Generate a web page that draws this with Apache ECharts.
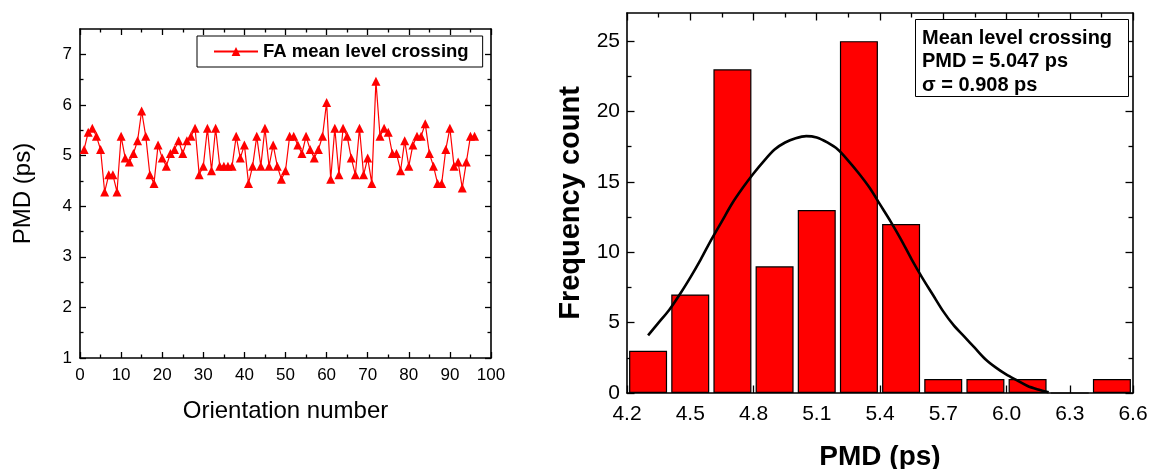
<!DOCTYPE html>
<html>
<head>
<meta charset="utf-8">
<script src="https://cdn.jsdelivr.net/npm/echarts@6/dist/echarts.min.js"></script>
<style>
  html, body { margin: 0; padding: 0; background: #fff; }
  #chart { width: 1149px; height: 469px; }
</style>
</head>
<body>
<div id="chart"></div>
<script>
// PMD measured at each fibre orientation (ps), orientations 1..96
const pmdValues = [
  5.12, 5.46, 5.54, 5.38, 5.12, 4.28, 4.62, 4.62, 4.28, 5.38,
  4.95, 4.87, 5.04, 5.29, 5.88, 5.38, 4.62, 4.45, 5.21, 4.95,
  4.79, 5.04, 5.12, 5.29, 5.04, 5.29, 5.38, 5.54, 4.62, 4.79,
  5.54, 4.70, 5.54, 4.79, 4.79, 4.79, 4.79, 5.38, 4.95, 5.21,
  4.45, 4.79, 5.38, 4.79, 5.54, 4.79, 5.21, 4.79, 4.53, 4.70,
  5.38, 5.38, 5.21, 5.04, 5.38, 5.12, 4.95, 5.12, 5.38, 6.05,
  4.53, 5.54, 4.62, 5.54, 5.38, 4.95, 4.62, 5.54, 4.62, 4.95,
  4.45, 6.47, 5.38, 5.54, 5.46, 5.04, 5.04, 4.70, 5.29, 4.79,
  5.21, 5.38, 5.38, 5.63, 5.04, 4.79, 4.45, 4.45, 5.12, 5.54,
  4.79, 4.87, 4.36, 4.87, 5.38, 5.38
];

// Histogram of the PMD values: bin centres (ps) and counts
const binCenters = [4.3, 4.5, 4.7, 4.9, 5.1, 5.3, 5.5, 5.7, 5.9, 6.1, 6.3, 6.5];
const binCounts  = [3, 7, 23, 9, 13, 25, 12, 1, 1, 1, 0, 1];

// Fitted distribution curve drawn over the histogram
const fitX = [4.30, 4.35, 4.40, 4.45, 4.50, 4.55, 4.60, 4.65, 4.70, 4.75,
              4.80, 4.85, 4.90, 4.95, 5.00, 5.05, 5.10, 5.15, 5.20, 5.25,
              5.30, 5.35, 5.40, 5.45, 5.50, 5.55, 5.60, 5.65, 5.70, 5.75,
              5.80, 5.85, 5.90, 5.95, 6.00, 6.05, 6.10, 6.15, 6.20];
const fitY = [4.1, 5.0, 5.9, 7.0, 8.2, 9.5, 10.9, 12.2, 13.5, 14.6,
              15.6, 16.5, 17.3, 17.8, 18.1, 18.25, 18.15, 17.8, 17.3, 16.5,
              15.6, 14.6, 13.4, 12.2, 10.9, 9.5, 8.2, 7.0, 5.8, 4.8,
              4.0, 3.2, 2.4, 1.8, 1.3, 0.9, 0.5, 0.25, 0.05];

// Summary statistics
const meanPMD = '5.047';
const sigmaPMD = '0.908';

// Tick values
const leftXMajor = [0, 10, 20, 30, 40, 50, 60, 70, 80, 90, 100];
const leftXMinor = [5, 15, 25, 35, 45, 55, 65, 75, 85, 95];
const leftYMajor = [1, 2, 3, 4, 5, 6, 7];
const leftYMinor = [1.5, 2.5, 3.5, 4.5, 5.5, 6.5];
const rightXMajor = [4.2, 4.5, 4.8, 5.1, 5.4, 5.7, 6.0, 6.3, 6.6];
const rightXMinor = [4.35, 4.65, 4.95, 5.25, 5.55, 5.85, 6.15, 6.45];
const rightYMajor = [0, 5, 10, 15, 20, 25];
const rightYMinor = [2.5, 7.5, 12.5, 17.5, 22.5];

const FONT = '"Liberation Sans", Arial, Helvetica, sans-serif';

// Builds a framed axis pair (major ticks with line, minor ticks only) for one side
function sideAxes(grid, pos, min, max, major, minor, cfg) {
  const base = {
    gridIndex: grid, type: 'value', min: min, max: max, position: pos,
    splitLine: { show: false }, axisPointer: { show: false }, silent: true
  };
  const main = Object.assign({}, base, {
    axisLine: { show: true, onZero: false, lineStyle: { color: '#000', width: 1.6 } },
    axisTick: { show: true, inside: true, length: cfg.majorLen, customValues: major,
                lineStyle: { color: '#000', width: 1.3 } },
    axisLabel: cfg.labels ? {
      show: true, customValues: major, margin: cfg.margin, color: '#000',
      fontSize: cfg.fontSize, fontFamily: FONT, formatter: cfg.fmt
    } : { show: false }
  });
  if (cfg.name) {
    main.name = cfg.name;
    main.nameLocation = 'middle';
    main.nameGap = cfg.nameGap;
    main.nameTextStyle = cfg.nameStyle;
  }
  const mnr = Object.assign({}, base, {
    axisLine: { show: false, onZero: false },
    axisTick: { show: true, inside: true, length: cfg.minorLen, customValues: minor,
                lineStyle: { color: '#000', width: 1.3 } },
    axisLabel: { show: false }
  });
  return [main, mnr];
}

const xAxes = [].concat(
  sideAxes(0, 'bottom', 0, 100, leftXMajor, leftXMinor, {
    labels: true, majorLen: 6, minorLen: 3.5, margin: 9, fontSize: 17,
    fmt: v => String(v),
    name: 'Orientation number', nameGap: 41,
    nameStyle: { fontSize: 24, fontFamily: FONT, color: '#000' }
  }),
  sideAxes(0, 'top', 0, 100, leftXMajor, leftXMinor, { labels: false, majorLen: 6, minorLen: 3.5 }),
  sideAxes(1, 'bottom', 4.2, 6.6, rightXMajor, rightXMinor, {
    labels: true, majorLen: 7.5, minorLen: 4.5, margin: 11, fontSize: 21,
    fmt: v => Number(v).toFixed(1),
    name: 'PMD (ps)', nameGap: 50,
    nameStyle: { fontSize: 28, fontWeight: 'bold', fontFamily: FONT, color: '#000' }
  }),
  sideAxes(1, 'top', 4.2, 6.6, rightXMajor, rightXMinor, { labels: false, majorLen: 7.5, minorLen: 4.5 })
);

const yAxes = [].concat(
  sideAxes(0, 'left', 1, 7.5, leftYMajor, leftYMinor, {
    labels: true, majorLen: 6, minorLen: 3.5, margin: 8, fontSize: 17,
    fmt: v => String(v),
    name: 'PMD (ps)', nameGap: 45,
    nameStyle: { fontSize: 24, fontFamily: FONT, color: '#000' }
  }),
  sideAxes(0, 'right', 1, 7.5, leftYMajor, leftYMinor, { labels: false, majorLen: 6, minorLen: 3.5 }),
  sideAxes(1, 'left', 0, 27, rightYMajor, rightYMinor, {
    labels: true, majorLen: 7.5, minorLen: 4.5, margin: 7, fontSize: 21,
    fmt: v => String(v),
    name: 'Frequency count', nameGap: 42,
    nameStyle: { fontSize: 29, fontWeight: 'bold', fontFamily: FONT, color: '#000' }
  }),
  sideAxes(1, 'right', 0, 27, rightYMajor, rightYMinor, { labels: false, majorLen: 7.5, minorLen: 4.5 })
);

const chart = echarts.init(document.getElementById('chart'), null, { renderer: 'canvas' });

chart.setOption({
  animation: false,
  backgroundColor: '#fff',
  textStyle: { fontFamily: FONT },
  grid: [
    { left: 80, top: 29, width: 411, height: 329, containLabel: false, outerBoundsMode: 'none' },
    { left: 627, top: 13, width: 506, height: 380, containLabel: false, outerBoundsMode: 'none' }
  ],
  xAxis: xAxes,
  yAxis: yAxes,
  legend: {
    data: ['FA mean level crossing'],
    left: 197, top: 36,
    padding: [6, 14, 6, 16],
    borderColor: '#000', borderWidth: 1,
    itemWidth: 44, itemHeight: 11, itemGap: 0,
    textStyle: { fontFamily: FONT, fontSize: 18.5, fontWeight: 'bold', color: '#000' },
    selectedMode: false
  },
  graphic: [
    {
      type: 'rect', left: 915, top: 19, z: 100,
      shape: { width: 213, height: 77 },
      style: { fill: '#fff', stroke: '#000', lineWidth: 1 }
    },
    {
      type: 'text', left: 922, top: 26.5, z: 101,
      style: {
        text: 'Mean level crossing\nPMD = ' + meanPMD + ' ps\nσ = ' + sigmaPMD + ' ps',
        font: 'bold 20px ' + FONT, lineHeight: 23.4, fill: '#000'
      }
    }
  ],
  series: [
    {
      name: 'FA mean level crossing',
      type: 'line',
      xAxisIndex: 0, yAxisIndex: 0,
      data: pmdValues.map((v, i) => [i + 1, v]),
      symbol: 'triangle', symbolSize: 9,
      lineStyle: { color: '#ff0000', width: 1.2 },
      itemStyle: { color: '#ff0000' },
      z: 3
    },
    {
      name: 'Histogram',
      type: 'bar',
      xAxisIndex: 4, yAxisIndex: 4,
      data: binCenters.map((c, i) => [c, binCounts[i]]),
      barWidth: 38,
      itemStyle: { color: '#ff0000', borderColor: '#000', borderWidth: 1.2 },
      z: 2
    },
    {
      name: 'Fit',
      type: 'line',
      xAxisIndex: 4, yAxisIndex: 4,
      data: fitX.map((x, i) => [x, fitY[i]]),
      smooth: 0.3,
      showSymbol: false, symbol: 'none',
      lineStyle: { color: '#000', width: 2.6 },
      z: 4
    }
  ]
});
</script>
</body>
</html>
